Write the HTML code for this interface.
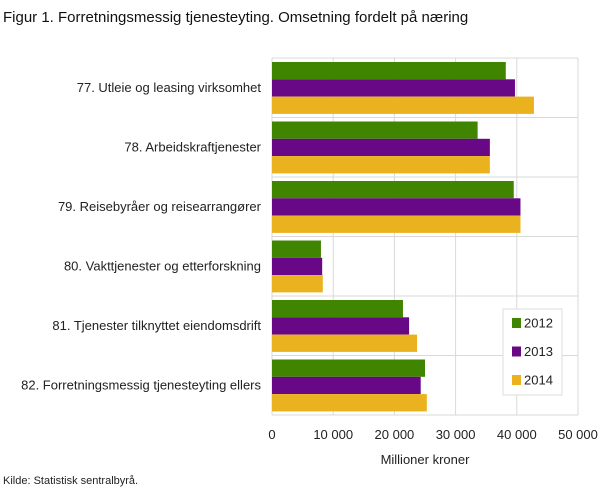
<!DOCTYPE html>
<html><head><meta charset="utf-8"><style>
body{margin:0;background:#fff;font-family:"Liberation Sans","DejaVu Sans",sans-serif;}
svg text{font-family:"Liberation Sans","DejaVu Sans",sans-serif;}
</style></head><body>
<svg id="c" width="609" height="488" xmlns="http://www.w3.org/2000/svg">
<text x="3" y="22" font-size="15" fill="#111">Figur 1. Forretningsmessig tjenesteyting. Omsetning fordelt på næring</text>
<text x="3" y="484" font-size="11" fill="#222">Kilde: Statistisk sentralbyrå.</text>
<text x="425" y="464" font-size="13" fill="#222" text-anchor="middle">Millioner  kroner</text>
<g id="grid"></g><g id="bars"></g><g id="labels"></g>
<g>
<rect x="503" y="309" width="59" height="86" fill="#fff" stroke="#ddd"/>
<g id="leg"></g>
</g>
</svg>
<script>
const categories=["77. Utleie og leasing virksomhet","78. Arbeidskraftjenester","79. Reisebyråer og reisearrangører","80. Vakttjenester og etterforskning","81. Tjenester tilknyttet eiendomsdrift","82. Forretningsmessig tjenesteyting ellers"];
const seriesNames=["2012","2013","2014"];
const s2012=[38200,33600,39500,8000,21400,25000];
const s2013=[39700,35600,40600,8200,22400,24300];
const s2014=[42800,35600,40600,8300,23700,25300];
const ticks=[0,10000,20000,30000,40000,50000];
const tickLabels=["0","10 000","20 000","30 000","40 000","50 000"];
const colors=["#3f8500","#690887","#ebb21f"];
const NS="http://www.w3.org/2000/svg";
const x0=272,x1=578,yTop=58,yBot=415,xmax=50000;
const rowH=(yBot-yTop)/categories.length;
const xs=v=>x0+v/xmax*(x1-x0);
function mk(t,a,p){const e=document.createElementNS(NS,t);for(const k in a)e.setAttribute(k,a[k]);p.appendChild(e);return e;}
const grid=document.getElementById('grid'),bars=document.getElementById('bars'),labels=document.getElementById('labels'),leg=document.getElementById('leg');
ticks.forEach((t,i)=>{
 const l=mk('line',{x1:xs(t),x2:xs(t),y1:yTop,y2:yBot,stroke:'#d9d9d9','stroke-width':1},grid);
 
 
 const tx=mk('text',{x:xs(t),y:439,'font-size':13,fill:'#222','text-anchor':'middle'},labels);
 tx.textContent=tickLabels[i];
 
 
});
for(let i=0;i<=categories.length;i++){
 const l=mk('line',{x1:x0,x2:x1,y1:yTop+i*rowH,y2:yTop+i*rowH,stroke:'#d9d9d9','stroke-width':1},grid);
 
 
}
const all=[s2012,s2013,s2014];
const bh=17.3,pad=4;
categories.forEach((c,i)=>{
 const y=yTop+i*rowH+pad;
 all.forEach((s,j)=>{
  const r=mk('rect',{x:x0,y:y+j*bh,width:xs(s[i])-x0,height:bh,fill:colors[j]},bars);
  
  
 });
 const t=mk('text',{x:261,y:yTop+i*rowH+rowH/2+4,'font-size':13,fill:'#222','text-anchor':'end'},labels);
 t.textContent=c;
 
 
});
seriesNames.forEach((n,j)=>{
 const y=323+j*28.5;
 const r=mk('rect',{x:512,y:y-5,width:9,height:10,fill:colors[j]},leg);
 
 
 const t=mk('text',{x:524,y:y+4.5,'font-size':13,fill:'#222'},leg);
 t.textContent=n;
 
 
});
</script>
</body></html>
